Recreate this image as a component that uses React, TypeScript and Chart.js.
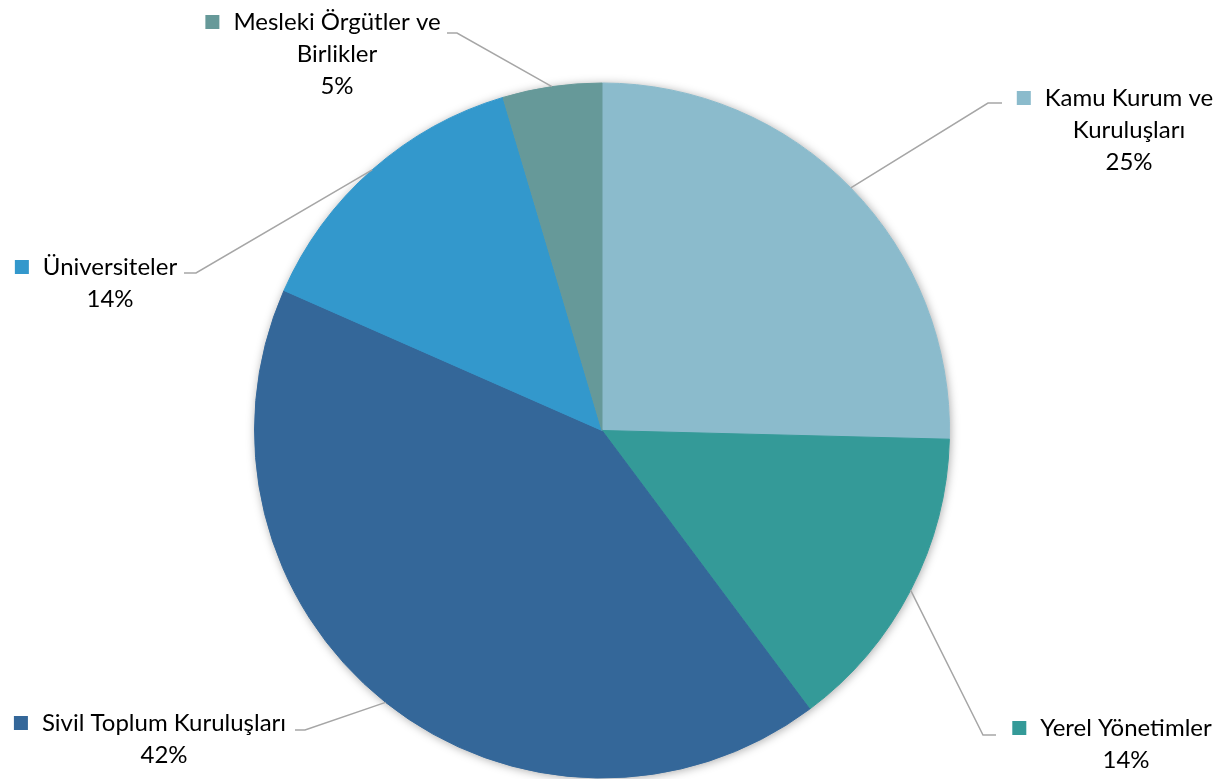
import React, { useEffect, useRef } from "react";
import { Chart, registerables } from "chart.js";

Chart.register(...registerables);

const categories = [
  ["Kamu Kurum ve", "Kuruluşları"],
  ["Yerel Yönetimler"],
  ["Sivil Toplum Kuruluşları"],
  ["Üniversiteler"],
  ["Mesleki Örgütler ve", "Birlikler"],
];
const values = [25.4, 14.4, 41.8, 13.8, 4.6];
const percentLabels = ["25%", "14%", "42%", "14%", "5%"];
const colors = ["#8BBBCC", "#349A98", "#346799", "#3398CC", "#669999"];

// label layout: text centre x, first line y (middle), elbow point of leader
const labelLayout = [
  { cx: 1129, y: 98, elbowX: 988, endX: 1002, lineY: 103 },
  { cx: 1126, y: 728, elbowX: 983, endX: 996, lineY: 735 },
  { cx: 164, y: 723, elbowX: 305, endX: 295, lineY: 730 },
  { cx: 110, y: 267, elbowX: 196, endX: 184, lineY: 273 },
  { cx: 337, y: 22, elbowX: 457, endX: 447, lineY: 33 },
];

const FONT = "24px Lato, 'Noto Sans', sans-serif";
const LINE_H = 32;

const labelPlugin = {
  id: "customLabels",
  beforeDatasetsDraw(chart: any) {
    const meta = chart.getDatasetMeta(0);
    const a = meta.data[0];
    if (!a) return;
    const ctx = chart.ctx;
    ctx.save();
    ctx.shadowColor = "rgba(0,0,0,0.35)";
    ctx.shadowBlur = 10;
    ctx.shadowOffsetX = 1;
    ctx.shadowOffsetY = 1;
    ctx.fillStyle = "#ffffff";
    ctx.beginPath();
    ctx.arc(a.x, a.y, a.outerRadius, 0, Math.PI * 2);
    ctx.fill();
    ctx.restore();
  },
  afterDatasetsDraw(chart: any) {
    const meta = chart.getDatasetMeta(0);
    const ctx = chart.ctx;
    ctx.save();
    meta.data.forEach((arc: any, i: number) => {
      const mid = (arc.startAngle + arc.endAngle) / 2;
      const px = arc.x + Math.cos(mid) * arc.outerRadius;
      const py = arc.y + Math.sin(mid) * arc.outerRadius;
      const L = labelLayout[i];
      ctx.strokeStyle = "#A6A6A6";
      ctx.lineWidth = 1.5;
      ctx.beginPath();
      ctx.moveTo(px, py);
      ctx.lineTo(L.elbowX, L.lineY);
      ctx.lineTo(L.endX, L.lineY);
      ctx.stroke();

      ctx.font = FONT;
      ctx.fillStyle = "#000000";
      ctx.textAlign = "center";
      ctx.textBaseline = "middle";
      const lines = [...categories[i], percentLabels[i]];
      lines.forEach((t, k) => {
        ctx.fillText(t, L.cx, L.y + k * LINE_H);
      });
      const w = ctx.measureText(categories[i][0]).width;
      const sq = 14;
      const sx = L.cx - w / 2 - 14 - sq;
      ctx.fillStyle = colors[i];
      ctx.fillRect(sx, L.y - sq / 2, sq, sq);
    });
    ctx.restore();
  },
};

export default function App() {
  const ref = useRef<HTMLCanvasElement>(null);
  useEffect(() => {
    if (!ref.current) return;
    const chart = new Chart(ref.current, {
      type: "pie",
      data: {
        labels: categories.map((c) => c.join(" ")),
        datasets: [
          {
            data: values,
            backgroundColor: colors,
            borderColor: colors,
            borderWidth: 1,
            hoverOffset: 0,
          },
        ],
      },
      options: {
        responsive: false,
        animation: false,
        layout: { padding: { left: 254, right: 277, top: 82, bottom: 0 } },
        plugins: {
          legend: { display: false },
          tooltip: { enabled: false },
        },
      },
      plugins: [labelPlugin],
    });
    return () => chart.destroy();
  }, []);
  return (
    <div style={{ position: "fixed", left: 0, top: 0, width: 1227, height: 779, background: "#fff" }}>
      <canvas ref={ref} width={1227} height={779} style={{ display: "block" }} />
    </div>
  );
}
